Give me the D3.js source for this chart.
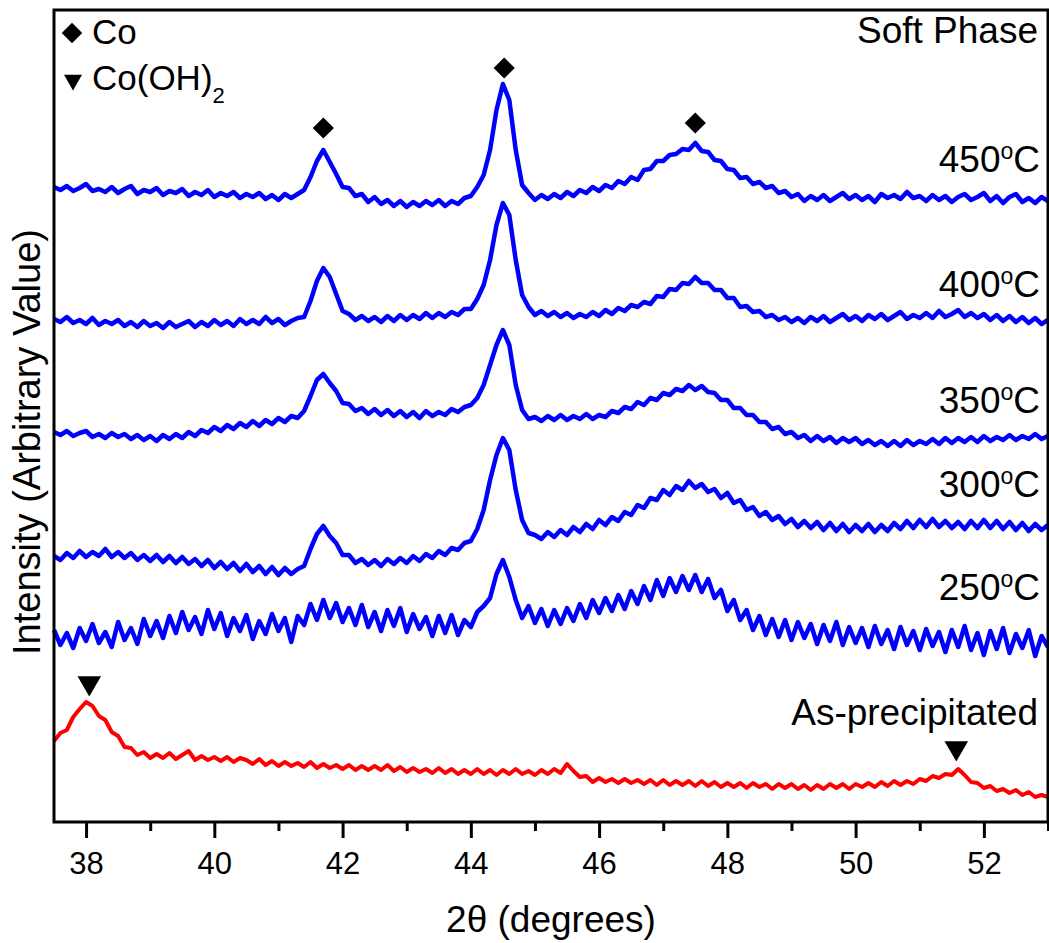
<!DOCTYPE html>
<html>
<head>
<meta charset="utf-8">
<script src="https://cdn.jsdelivr.net/npm/d3@7/dist/d3.min.js"></script>
<style>
  body { margin: 0; background: #fff; }
  svg { display: block; }
</style>
</head>
<body>
<svg id="chart" width="1049" height="943"></svg>
<script>
// scan grid: 2theta from 37.5 in 0.1 degree steps
const thetaStart = 37.5;
const thetaStep = 0.1;

const majorTicks = [38, 40, 42, 44, 46, 48, 50, 52];
const minorTicks = [39, 41, 43, 45, 47, 49, 51, 53];

// intensities (arbitrary, already stacked with the plot offsets)
const soft450 = [
  635,632,636,631,634,638,631,633,630,635, 629,633,636,628,632,630,634,627,631,629,
  633,626,630,627,632,625,629,626,630,624, 628,625,629,623,627,622,628,624,628,632,
  645,661,672,660,648,635,634,626,628,620, 625,618,622,616,621,615,620,616,621,617,
  622,616,621,618,624,626,635,647,672,712, 738,722,672,637,629,622,627,623,628,624,
  630,626,632,629,635,631,637,634,641,638, 645,642,652,653,661,661,667,668,673,672,
  679,671,670,662,661,653,652,644,645,638, 640,634,636,629,631,625,628,621,626,622,
  627,621,625,629,623,627,622,626,620,628, 624,627,623,630,624,626,621,627,622,626,
  620,625,628,622,625,629,621,626,619,625, 628,620,624,619,625,621
];
const soft400 = [
  503,500,505,499,502,498,504,497,501,498, 502,496,500,495,501,496,499,494,500,495,
  498,501,495,500,496,502,497,501,496,503, 498,502,498,505,499,503,497,501,504,505,
  521,541,554,545,528,511,508,502,506,501, 505,500,506,501,507,502,507,503,509,504,
  509,505,510,507,513,513,523,537,562,597, 619,607,562,527,515,507,511,506,510,505,
  509,504,508,505,510,506,512,508,514,511, 517,515,520,518,526,525,533,532,539,538,
  545,539,539,532,532,524,524,515,516,510, 511,505,507,502,505,500,504,499,505,501,
  506,500,504,508,502,506,501,507,503,508, 502,506,510,503,507,504,509,504,511,505,
  508,512,505,509,504,508,502,507,501,506, 500,505,499,504,498,502
];
const soft350 = [
  390,387,391,386,389,391,385,388,384,389, 385,388,383,387,382,386,381,387,383,388,
  384,390,386,392,389,395,391,397,393,399, 395,401,396,402,398,404,400,406,404,411,
  426,442,448,439,431,419,418,411,414,408, 413,407,412,406,411,405,410,404,411,406,
  410,407,413,410,415,417,424,437,457,477, 492,477,437,412,403,405,401,406,402,407,
  402,406,403,408,403,407,405,411,409,415, 413,420,417,424,422,429,427,433,431,437,
  432,436,430,429,422,422,414,414,407,407, 400,400,393,395,388,390,384,387,381,386,
  381,385,379,384,380,384,378,382,377,381, 376,381,376,382,377,381,378,383,378,384,
  379,384,380,385,380,386,381,385,382,387, 382,386,383,388,383,386
];
const soft300 = [
  266,262,269,264,271,265,270,266,273,265, 270,264,269,262,267,261,267,260,266,259,
  265,258,263,256,262,254,260,253,259,251, 258,250,256,248,255,247,254,248,253,256,
  273,288,296,286,279,267,267,259,263,257, 262,256,263,258,264,259,266,261,268,264,
  271,267,274,272,279,281,293,312,342,367, 384,372,332,302,289,287,283,290,285,292,
  287,295,290,298,293,302,297,305,301,310, 307,317,314,324,322,332,327,336,332,341,
  334,338,330,333,324,329,319,322,312,315, 306,310,302,306,298,303,295,301,294,300,
  292,299,291,298,290,297,291,298,290,297, 291,299,293,301,294,302,295,303,295,301,
  294,300,293,301,294,302,294,301,293,300, 292,299,291,298,292,297
];
const soft250 = [
  192,177,189,174,194,181,198,179,190,175, 200,182,194,178,203,186,201,184,206,189,
  210,192,205,188,212,193,209,186,204,191, 207,183,201,188,208,191,204,180,206,197,
  218,202,222,204,219,200,214,197,217,195, 210,191,212,196,214,190,208,193,205,186,
  206,189,207,187,202,195,210,216,224,248, 262,245,222,204,216,199,213,196,212,198,
  214,201,218,204,222,209,224,211,227,213, 231,218,236,222,242,226,244,230,246,232,
  247,230,243,224,232,211,222,202,212,192, 206,187,203,185,202,182,200,184,198,178,
  197,181,200,177,195,179,194,175,196,178, 192,173,195,177,191,172,193,176,190,170,
  192,175,196,172,189,167,191,173,194,169, 188,174,192,166,186,175
];
const asPrecipitated = [
  81,89,92,105,113,120,116,106,102,90, 86,75,74,67,70,64,68,64,69,63,
  67,71,62,66,62,65,61,65,60,64, 62,58,63,57,61,56,60,56,59,55,
  60,54,58,54,57,53,57,52,56,52, 56,52,57,51,55,50,54,50,53,49,
  54,49,53,48,52,48,53,48,52,47, 52,48,53,48,51,47,52,48,53,49,
  58,51,45,46,40,44,40,43,39,43, 39,42,38,42,37,42,37,41,37,41,
  36,41,36,40,35,39,35,39,34,39, 35,38,33,38,34,38,33,37,32,37,
  33,38,34,38,33,38,35,39,35,40, 36,41,37,41,38,43,41,46,44,48,
  47,53,47,40,39,34,36,31,33,29, 32,27,30,25,27,25
];

const tempLabels = ["450", "400", "350", "300", "250"];
const tempLabelLevels = [650, 525, 409, 325, 222];

// peak markers [2theta, intensity]
const coPeaks = [[41.7, 694], [44.52, 754], [47.5, 699]];
const hydroxidePeaks = [[38.05, 139], [51.57, 74]];

const font = "Arial, 'Liberation Sans', sans-serif";
const svg = d3.select("#chart").attr("font-family", font);

const plot = { left: 54, right: 1048, top: 10, bottom: 822 };
const x = d3.scaleLinear().domain([37.5, 53]).range([plot.left, plot.right]);
const y = d3.scaleLinear().domain([0, 812]).range([plot.bottom, plot.top]);

const line = d3.line()
  .x((d, i) => x(thetaStart + i * thetaStep))
  .y(d => y(d));

const traces = [
  { values: soft450, color: "#0000ff", width: 4.5 },
  { values: soft400, color: "#0000ff", width: 4.5 },
  { values: soft350, color: "#0000ff", width: 4.5 },
  { values: soft300, color: "#0000ff", width: 4.5 },
  { values: soft250, color: "#0000ff", width: 4.5 },
  { values: asPrecipitated, color: "#ff0000", width: 4 }
];

svg.append("g")
  .selectAll("path")
  .data(traces)
  .join("path")
  .attr("d", d => line(d.values))
  .attr("fill", "none")
  .attr("stroke", d => d.color)
  .attr("stroke-width", d => d.width)
  .attr("stroke-linejoin", "round");

// x axis, major and minor ticks
const gx = svg.append("g")
  .attr("transform", `translate(0,${plot.bottom})`)
  .attr("font-family", font)
  .call(d3.axisBottom(x).tickValues(majorTicks).tickSize(16).tickPadding(14).tickFormat(d3.format("d")));
gx.select(".domain").remove();
gx.selectAll("line").attr("stroke", "#000").attr("stroke-width", 3);
gx.selectAll("text").attr("font-size", 31).attr("fill", "#000");

const gxMinor = svg.append("g")
  .attr("transform", `translate(0,${plot.bottom})`)
  .call(d3.axisBottom(x).tickValues(minorTicks).tickSize(9).tickFormat(""));
gxMinor.select(".domain").remove();
gxMinor.selectAll("line").attr("stroke", "#000").attr("stroke-width", 3);

// frame
svg.append("rect")
  .attr("x", plot.left).attr("y", plot.top)
  .attr("width", plot.right - plot.left).attr("height", plot.bottom - plot.top)
  .attr("fill", "none").attr("stroke", "#000").attr("stroke-width", 3);

// axis titles
svg.append("text")
  .attr("x", (plot.left + plot.right) / 2).attr("y", 932)
  .attr("text-anchor", "middle").attr("font-size", 37)
  .text("2θ (degrees)");

svg.append("text")
  .attr("transform", `translate(40,${(plot.top + plot.bottom) / 2 + 26}) rotate(-90)`)
  .attr("text-anchor", "middle").attr("font-size", 38)
  .text("Intensity (Arbitrary Value)");

// peak markers
const diamond = d3.symbol().type(d3.symbolSquare);
const triangle = d3.symbol().type(d3.symbolTriangle);

svg.append("g")
  .selectAll("path")
  .data(coPeaks)
  .join("path")
  .attr("d", diamond.size(225)())
  .attr("transform", d => `translate(${x(d[0])},${y(d[1])}) rotate(45)`)
  .attr("fill", "#000");

svg.append("g")
  .selectAll("path")
  .data(hydroxidePeaks)
  .join("path")
  .attr("d", triangle.size(240)())
  .attr("transform", d => `translate(${x(d[0])},${y(d[1])}) rotate(180)`)
  .attr("fill", "#000");

// legend
svg.append("path")
  .attr("d", diamond.size(210)())
  .attr("transform", "translate(72,33) rotate(45)")
  .attr("fill", "#000");
svg.append("text").attr("x", 92).attr("y", 44).attr("font-size", 35).text("Co");

svg.append("path")
  .attr("d", triangle.size(140)())
  .attr("transform", "translate(73,80) rotate(180)")
  .attr("fill", "#000");
const hyd = svg.append("text").attr("x", 92).attr("y", 90).attr("font-size", 35);
hyd.append("tspan").text("Co(OH)");
hyd.append("tspan").attr("font-size", 22).attr("dy", 13).text("2");

svg.append("text")
  .attr("x", 1038).attr("y", 43)
  .attr("text-anchor", "end").attr("font-size", 37)
  .text("Soft Phase");

// temperature labels
tempLabels.forEach((t, i) => {
  const lbl = svg.append("text")
    .attr("x", 1040).attr("y", y(tempLabelLevels[i]))
    .attr("text-anchor", "end").attr("font-size", 37);
  lbl.append("tspan").text(t);
  lbl.append("tspan").attr("font-size", 23).attr("dy", -13).text("o");
  lbl.append("tspan").attr("dy", 13).text("C");
});

svg.append("text")
  .attr("x", 1038).attr("y", 725)
  .attr("text-anchor", "end").attr("font-size", 37)
  .text("As-precipitated");
</script>
</body>
</html>
